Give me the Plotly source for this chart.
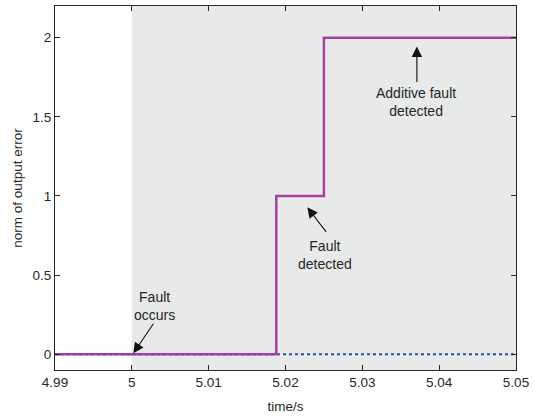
import plotly.graph_objects as go

# data
t_fault = [4.99, 5.0188, 5.025, 5.05]
err_fault = [0, 1, 2, 2]
t_nominal = [4.99, 5.05]
err_nominal = [0, 0]
fault_start = 5.0
x_ticks = [4.99, 5.0, 5.01, 5.02, 5.03, 5.04, 5.05]
x_tick_labels = ["4.99", "5", "5.01", "5.02", "5.03", "5.04", "5.05"]
y_ticks = [0, 0.5, 1, 1.5, 2]
y_tick_labels = ["0", "0.5", "1", "1.5", "2"]

font = dict(family="Liberation Sans, Arial, sans-serif", size=14, color="#262626")
tfont = dict(family="Liberation Sans, Arial, sans-serif", size=13.5, color="#262626")

fig = go.Figure()
fig.add_trace(go.Scatter(x=t_nominal, y=err_nominal, mode="lines",
                         line=dict(color="#2a4db0", width=2, dash="dot"), showlegend=False))
fig.add_trace(go.Scatter(x=t_fault, y=err_fault, mode="lines", line_shape="hv",
                         line=dict(color="#a93fa5", width=2.5), showlegend=False))
fig.add_trace(go.Scatter(x=[4.99, 5.0188], y=[0, 0], mode="lines",
                         line=dict(color="#2a4db0", width=1, dash="dot"), opacity=0.5,
                         showlegend=False))

fig.add_shape(type="rect", xref="x", yref="paper", x0=fault_start, x1=5.05, y0=0, y1=1,
              fillcolor="#e8e9e9", line_width=0, layer="below")

arrow = dict(showarrow=True, arrowhead=2, arrowsize=1.9, arrowwidth=1.1, arrowcolor="#111111",
             text="", xref="x", yref="y")
fig.add_annotation(x=5.0002, y=0.006, ax=21, ay=-31, **arrow)
fig.add_annotation(x=5.02284, y=0.928, ax=20, ay=26, **arrow)
fig.add_annotation(x=5.0371, y=1.944, ax=0, ay=37, **arrow)

txt = dict(showarrow=False, xref="x", yref="y", font=font)
fig.add_annotation(x=5.00293, y=0.307, text="Fault<br>occurs", **txt)
fig.add_annotation(x=5.02517, y=0.627, text="Fault<br>detected", **txt)
fig.add_annotation(x=5.03694, y=1.592, text="Additive fault<br>detected", **txt)

axis_common = dict(showline=True, linecolor="#262626", linewidth=1, mirror="ticks",
                   ticks="inside", ticklen=5, tickcolor="#262626", showgrid=False,
                   zeroline=False, tickfont=tfont)
fig.update_xaxes(range=[4.99, 5.05], tickvals=x_ticks, ticktext=x_tick_labels,
                 title=dict(text="time/s", font=tfont, standoff=12), **axis_common)
fig.update_yaxes(range=[-0.1, 2.2], tickvals=y_ticks, ticktext=y_tick_labels,
                 title=dict(text="norm of output error", font=tfont, standoff=6), **axis_common)

fig.update_layout(width=534, height=418, margin=dict(l=55, r=15, t=5, b=48),
                  plot_bgcolor="white", paper_bgcolor="white", font=font)
fig.write_html("out.html")
